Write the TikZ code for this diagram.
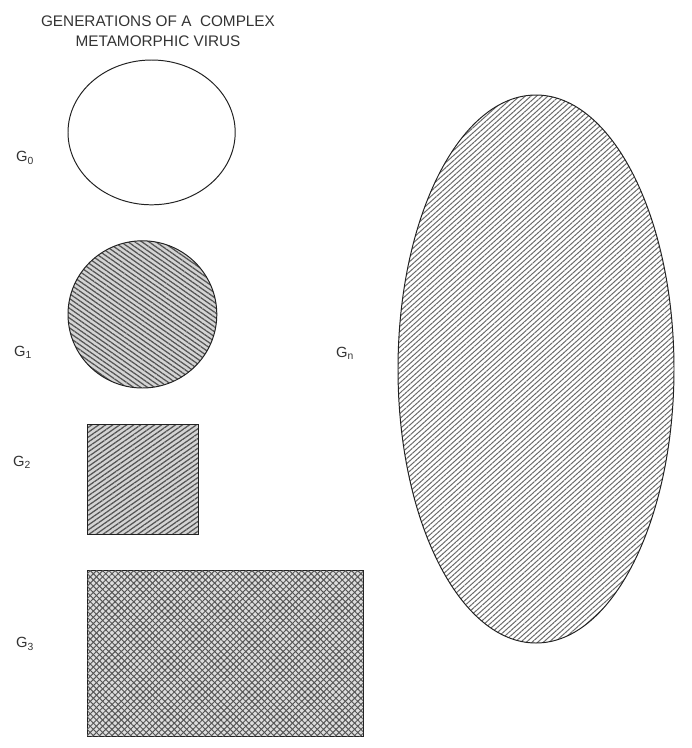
\documentclass[tikz,border=0pt]{standalone}
\usepackage{fontspec}
\setmainfont{Liberation Sans}
\usepackage{xcolor}
\usepackage{tikz}
\usetikzlibrary{patterns.meta}
\definecolor{ink}   {HTML}{222222}
\definecolor{title} {HTML}{333333}
\definecolor{hatch} {HTML}{555555}
\definecolor{hatchn}{HTML}{6A6A6A}
\definecolor{shade} {HTML}{D4D4D4}
\tikzset{
  outline/.style = {draw=ink, line width=0.7pt},
  gen/.style     = {font=\fontsize{10.5}{12}\selectfont, text=title, inner sep=1pt},
  hatchone/.style = {outline, preaction={fill=shade},
                     pattern={Lines[angle=-35, distance=0.1cm, line width=0.9pt]},
                     pattern color=hatch},
  hatchtwo/.style = {outline, preaction={fill=shade},
                     pattern={Lines[angle=35, distance=0.1cm, line width=0.9pt]},
                     pattern color=hatch},
  hatchn/.style   = {outline, preaction={fill=white},
                     pattern={Lines[angle=42, distance=0.095cm, line width=0.7pt]},
                     pattern color=hatchn},
  crossed/.style  = {outline, preaction={fill=shade!80},
                     postaction={pattern={Lines[angle=45, distance=0.11cm, line width=0.7pt]}, pattern color=hatch},
                     pattern={Lines[angle=-45, distance=0.11cm, line width=0.7pt]}, pattern color=hatch},
}

\begin{document}
\begin{tikzpicture}
  \useasboundingbox (0,0) rectangle (17.3,-18.7);

  \node[gen, align=center, font=\fontsize{10.9}{14.2}\selectfont] (head) at (3.95,-0.78)
    {GENERATIONS OF A\ \ COMPLEX\\METAMORPHIC VIRUS};

  % first generations on the left
  \draw[outline] (3.79,-3.31) ellipse [x radius=2.09, y radius=1.81];
  \node[gen] (g0) at (0.63,-3.95) {G\textsubscript{0}};

  \draw[hatchone] (3.56,-7.86) ellipse [x radius=1.86, y radius=1.84];
  \node[gen] (g1) at (0.58,-8.8) {G\textsubscript{1}};

  \draw[hatchtwo] (2.175,-10.6) rectangle (4.95,-13.35);
  \node[gen] (g2) at (0.55,-11.55) {G\textsubscript{2}};

  \draw[crossed] (2.175,-14.25) rectangle (9.075,-18.4);
  \node[gen] (g3) at (0.63,-16.1) {G\textsubscript{3}};

  % last generation
  \draw[hatchn] (13.4,-9.225) ellipse [x radius=3.45, y radius=6.85];
  \node[gen] (gn) at (8.63,-8.825) {G\textsubscript{n}};
\end{tikzpicture}
\end{document}
